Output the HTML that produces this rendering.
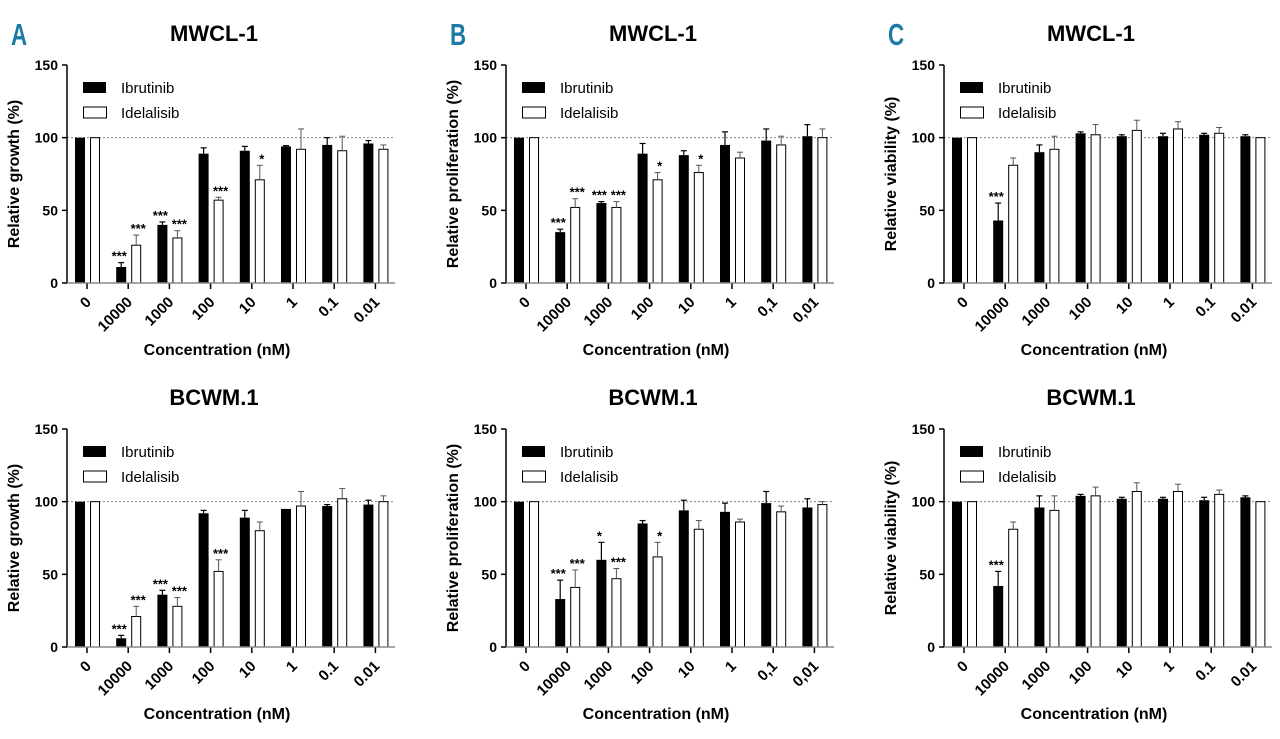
<!DOCTYPE html>
<html><head><meta charset="utf-8"><style>
html,body{margin:0;padding:0;background:#fff;}
svg text{font-family:"Liberation Sans",Arial,sans-serif;}
</style></head><body>
<svg id="fig" width="1280" height="734" viewBox="0 0 1280 734" xmlns="http://www.w3.org/2000/svg"></svg>
<script>
const catsDot=["0","10000","1000","100","10","1","0.1","0.01"];
const catsComma=["0","10000","1000","100","10","1","0,1","0,01"];
const yTicks=[0,50,100,150];
// A top
const aTopIb=[100,11,40,89,91,94,95,96], aTopIbErr=[0,3,2,4,3,0.5,5,2];
const aTopId=[100,26,31,57,71,92,91,92], aTopIdErr=[0,7,5,2,10,14,10,3];
const aTopIbStar=["","***","***","","","","",""], aTopIdStar=["","***","***","***","*","","",""];
// B top
const bTopIb=[100,35,55,89,88,95,98,101], bTopIbErr=[0,2,1,7,3,9,8,8];
const bTopId=[100,52,52,71,76,86,95,100], bTopIdErr=[0,6,4,5,5,4,6,6];
const bTopIbStar=["","***","***","","","","",""], bTopIdStar=["","***","***","*","*","","",""];
// C top
const cTopIb=[100,43,90,103,101,101,102,101], cTopIbErr=[0,12,5,1,1,2,1,1];
const cTopId=[100,81,92,102,105,106,103,100], cTopIdErr=[0,5,9,7,7,5,4,0];
const cTopIbStar=["","***","","","","","",""], cTopIdStar=["","","","","","","",""];
// A bottom
const aBotIb=[100,6,36,92,89,95,97,98], aBotIbErr=[0,2,3,2,5,0,1,3];
const aBotId=[100,21,28,52,80,97,102,100], aBotIdErr=[0,7,6,8,6,10,7,4];
const aBotIbStar=["","***","***","","","","",""], aBotIdStar=["","***","***","***","","","",""];
// B bottom
const bBotIb=[100,33,60,85,94,93,99,96], bBotIbErr=[0,13,12,2,7,6,8,6];
const bBotId=[100,41,47,62,81,86,93,98], bBotIdErr=[0,12,7,10,6,2,4,2];
const bBotIbStar=["","***","*","","","","",""], bBotIdStar=["","***","***","*","","","",""];
// C bottom
const cBotIb=[100,42,96,104,102,102,101,103], cBotIbErr=[0,10,8,1,1,1,2,1];
const cBotId=[100,81,94,104,107,107,105,100], cBotIdErr=[0,5,10,6,6,5,3,0];
const cBotIbStar=["","***","","","","","",""], cBotIdStar=["","","","","","","",""];

const NS="http://www.w3.org/2000/svg";
const svg=document.getElementById('fig');
function mk(tag,attrs,parent,text){const e=document.createElementNS(NS,tag);for(const k in attrs)e.setAttribute(k,attrs[k]);if(text!==undefined)e.textContent=text;(parent||svg).appendChild(e);return e;}

function panel(o){
  const g=mk('g',{});
  
  
  const x0=o.x0,x1=o.x0+328,y0=o.y0,ppu=218/150;
  const Y=v=>y0-v*ppu;
  const X=i=>x0+20+i*41.2;
  if(o.letter){const t=mk('text',{x:o.x0-56,y:o.y0-238,fill:'#1b7ba6','font-size':31,'font-weight':'bold',transform:`scale(0.72,1)`,'transform-origin':`${o.x0-56} ${o.y0-238}`},g,o.letter);
    }
  const tt=mk('text',{x:x0+147,y:y0-242,'text-anchor':'middle','font-size':22,'font-weight':'bold'},g,o.title);
  
  const rl=mk('line',{x1:x0,x2:x1,y1:Y(100),y2:Y(100),stroke:'#888','stroke-width':1,'stroke-dasharray':'2,2'},g);
  
  for(let i=0;i<o.ib.length;i++){
    const cx=X(i);
    const b=mk('rect',{x:cx-12,y:Y(o.ib[i]),width:10,height:o.ib[i]*ppu,fill:'#000'},g);
    
    if(o.ibE[i]>0){mk('line',{x1:cx-7,x2:cx-7,y1:Y(o.ib[i]),y2:Y(o.ib[i]+o.ibE[i]),stroke:'#000','stroke-width':1.2},g);
      mk('line',{x1:cx-10,x2:cx-4,y1:Y(o.ib[i]+o.ibE[i]),y2:Y(o.ib[i]+o.ibE[i]),stroke:'#000','stroke-width':1.2},g);}
    const w=mk('rect',{x:cx+3.5,y:Y(o.id[i]),width:9,height:o.id[i]*ppu,fill:'#fff',stroke:'#000','stroke-width':1},g);
    
    if(o.idE[i]>0){mk('line',{x1:cx+8,x2:cx+8,y1:Y(o.id[i]),y2:Y(o.id[i]+o.idE[i]),stroke:'#555','stroke-width':1},g);
      mk('line',{x1:cx+5,x2:cx+11,y1:Y(o.id[i]+o.idE[i]),y2:Y(o.id[i]+o.idE[i]),stroke:'#555','stroke-width':1},g);}
    if(o.ibS[i]){mk('text',{x:cx-9,y:Y(o.ib[i]+o.ibE[i])-2,'text-anchor':'middle','font-size':13,'font-weight':'bold'},g,o.ibS[i]);}
    if(o.idS[i]){mk('text',{x:cx+10,y:Y(o.id[i]+o.idE[i])-2,'text-anchor':'middle','font-size':13,'font-weight':'bold'},g,o.idS[i]);}
    mk('line',{x1:cx,x2:cx,y1:y0,y2:y0+6,stroke:'#000','stroke-width':1.5},g);
    const lt=mk('text',{x:cx+5,y:y0+20,'text-anchor':'end','font-size':15,'font-weight':'bold',transform:`rotate(-45 ${cx+5} ${y0+20})`},g,o.cats[i]);
    
  }
  mk('line',{x1:x0,x2:x0,y1:Y(150),y2:y0,stroke:'#000','stroke-width':1.5},g);
  mk('line',{x1:x0,x2:x1,y1:y0,y2:y0,stroke:'#888','stroke-width':1.5},g);
  yTicks.forEach(v=>{mk('line',{x1:x0-5,x2:x0,y1:Y(v),y2:Y(v),stroke:'#000','stroke-width':1.5},g);
    const t=mk('text',{x:x0-9,y:Y(v)+5,'text-anchor':'end','font-size':14,'font-weight':'bold'},g,String(v));
    });
  const yt=mk('text',{x:0,y:0,'text-anchor':'middle','font-size':16,'font-weight':'bold',transform:`translate(${x0-48},${Y(75)}) rotate(-90)`},g,o.ytitle);
  
  const xt=mk('text',{x:x0+150,y:y0+72,'text-anchor':'middle','font-size':16,'font-weight':'bold'},g,'Concentration (nM)');
  
  const l1=mk('rect',{x:x0+16,y:y0-201,width:23,height:11,fill:'#000'},g);
  
  mk('text',{x:x0+54,y:y0-190,'font-size':15},g,'Ibrutinib');
  const l2=mk('rect',{x:x0+16.5,y:y0-176,width:23,height:11,fill:'#fff',stroke:'#000','stroke-width':1},g);
  
  mk('text',{x:x0+54,y:y0-165,'font-size':15},g,'Idelalisib');
}
const xs=[67,506,944],yTop=283,yBot=647;
panel({name:'panel-a-mwcl1',letter:'A',title:'MWCL-1',x0:xs[0],y0:yTop,ib:aTopIb,ibE:aTopIbErr,id:aTopId,idE:aTopIdErr,ibS:aTopIbStar,idS:aTopIdStar,cats:catsDot,ytitle:'Relative growth (%)'});
panel({name:'panel-b-mwcl1',letter:'B',title:'MWCL-1',x0:xs[1],y0:yTop,ib:bTopIb,ibE:bTopIbErr,id:bTopId,idE:bTopIdErr,ibS:bTopIbStar,idS:bTopIdStar,cats:catsComma,ytitle:'Relative proliferation (%)'});
panel({name:'panel-c-mwcl1',letter:'C',title:'MWCL-1',x0:xs[2],y0:yTop,ib:cTopIb,ibE:cTopIbErr,id:cTopId,idE:cTopIdErr,ibS:cTopIbStar,idS:cTopIdStar,cats:catsDot,ytitle:'Relative viability (%)'});
panel({name:'panel-a-bcwm1',title:'BCWM.1',x0:xs[0],y0:yBot,ib:aBotIb,ibE:aBotIbErr,id:aBotId,idE:aBotIdErr,ibS:aBotIbStar,idS:aBotIdStar,cats:catsDot,ytitle:'Relative growth (%)'});
panel({name:'panel-b-bcwm1',title:'BCWM.1',x0:xs[1],y0:yBot,ib:bBotIb,ibE:bBotIbErr,id:bBotId,idE:bBotIdErr,ibS:bBotIbStar,idS:bBotIdStar,cats:catsComma,ytitle:'Relative proliferation (%)'});
panel({name:'panel-c-bcwm1',title:'BCWM.1',x0:xs[2],y0:yBot,ib:cBotIb,ibE:cBotIbErr,id:cBotId,idE:cBotIdErr,ibS:cBotIbStar,idS:cBotIdStar,cats:catsDot,ytitle:'Relative viability (%)'});
</script>
</body></html>
